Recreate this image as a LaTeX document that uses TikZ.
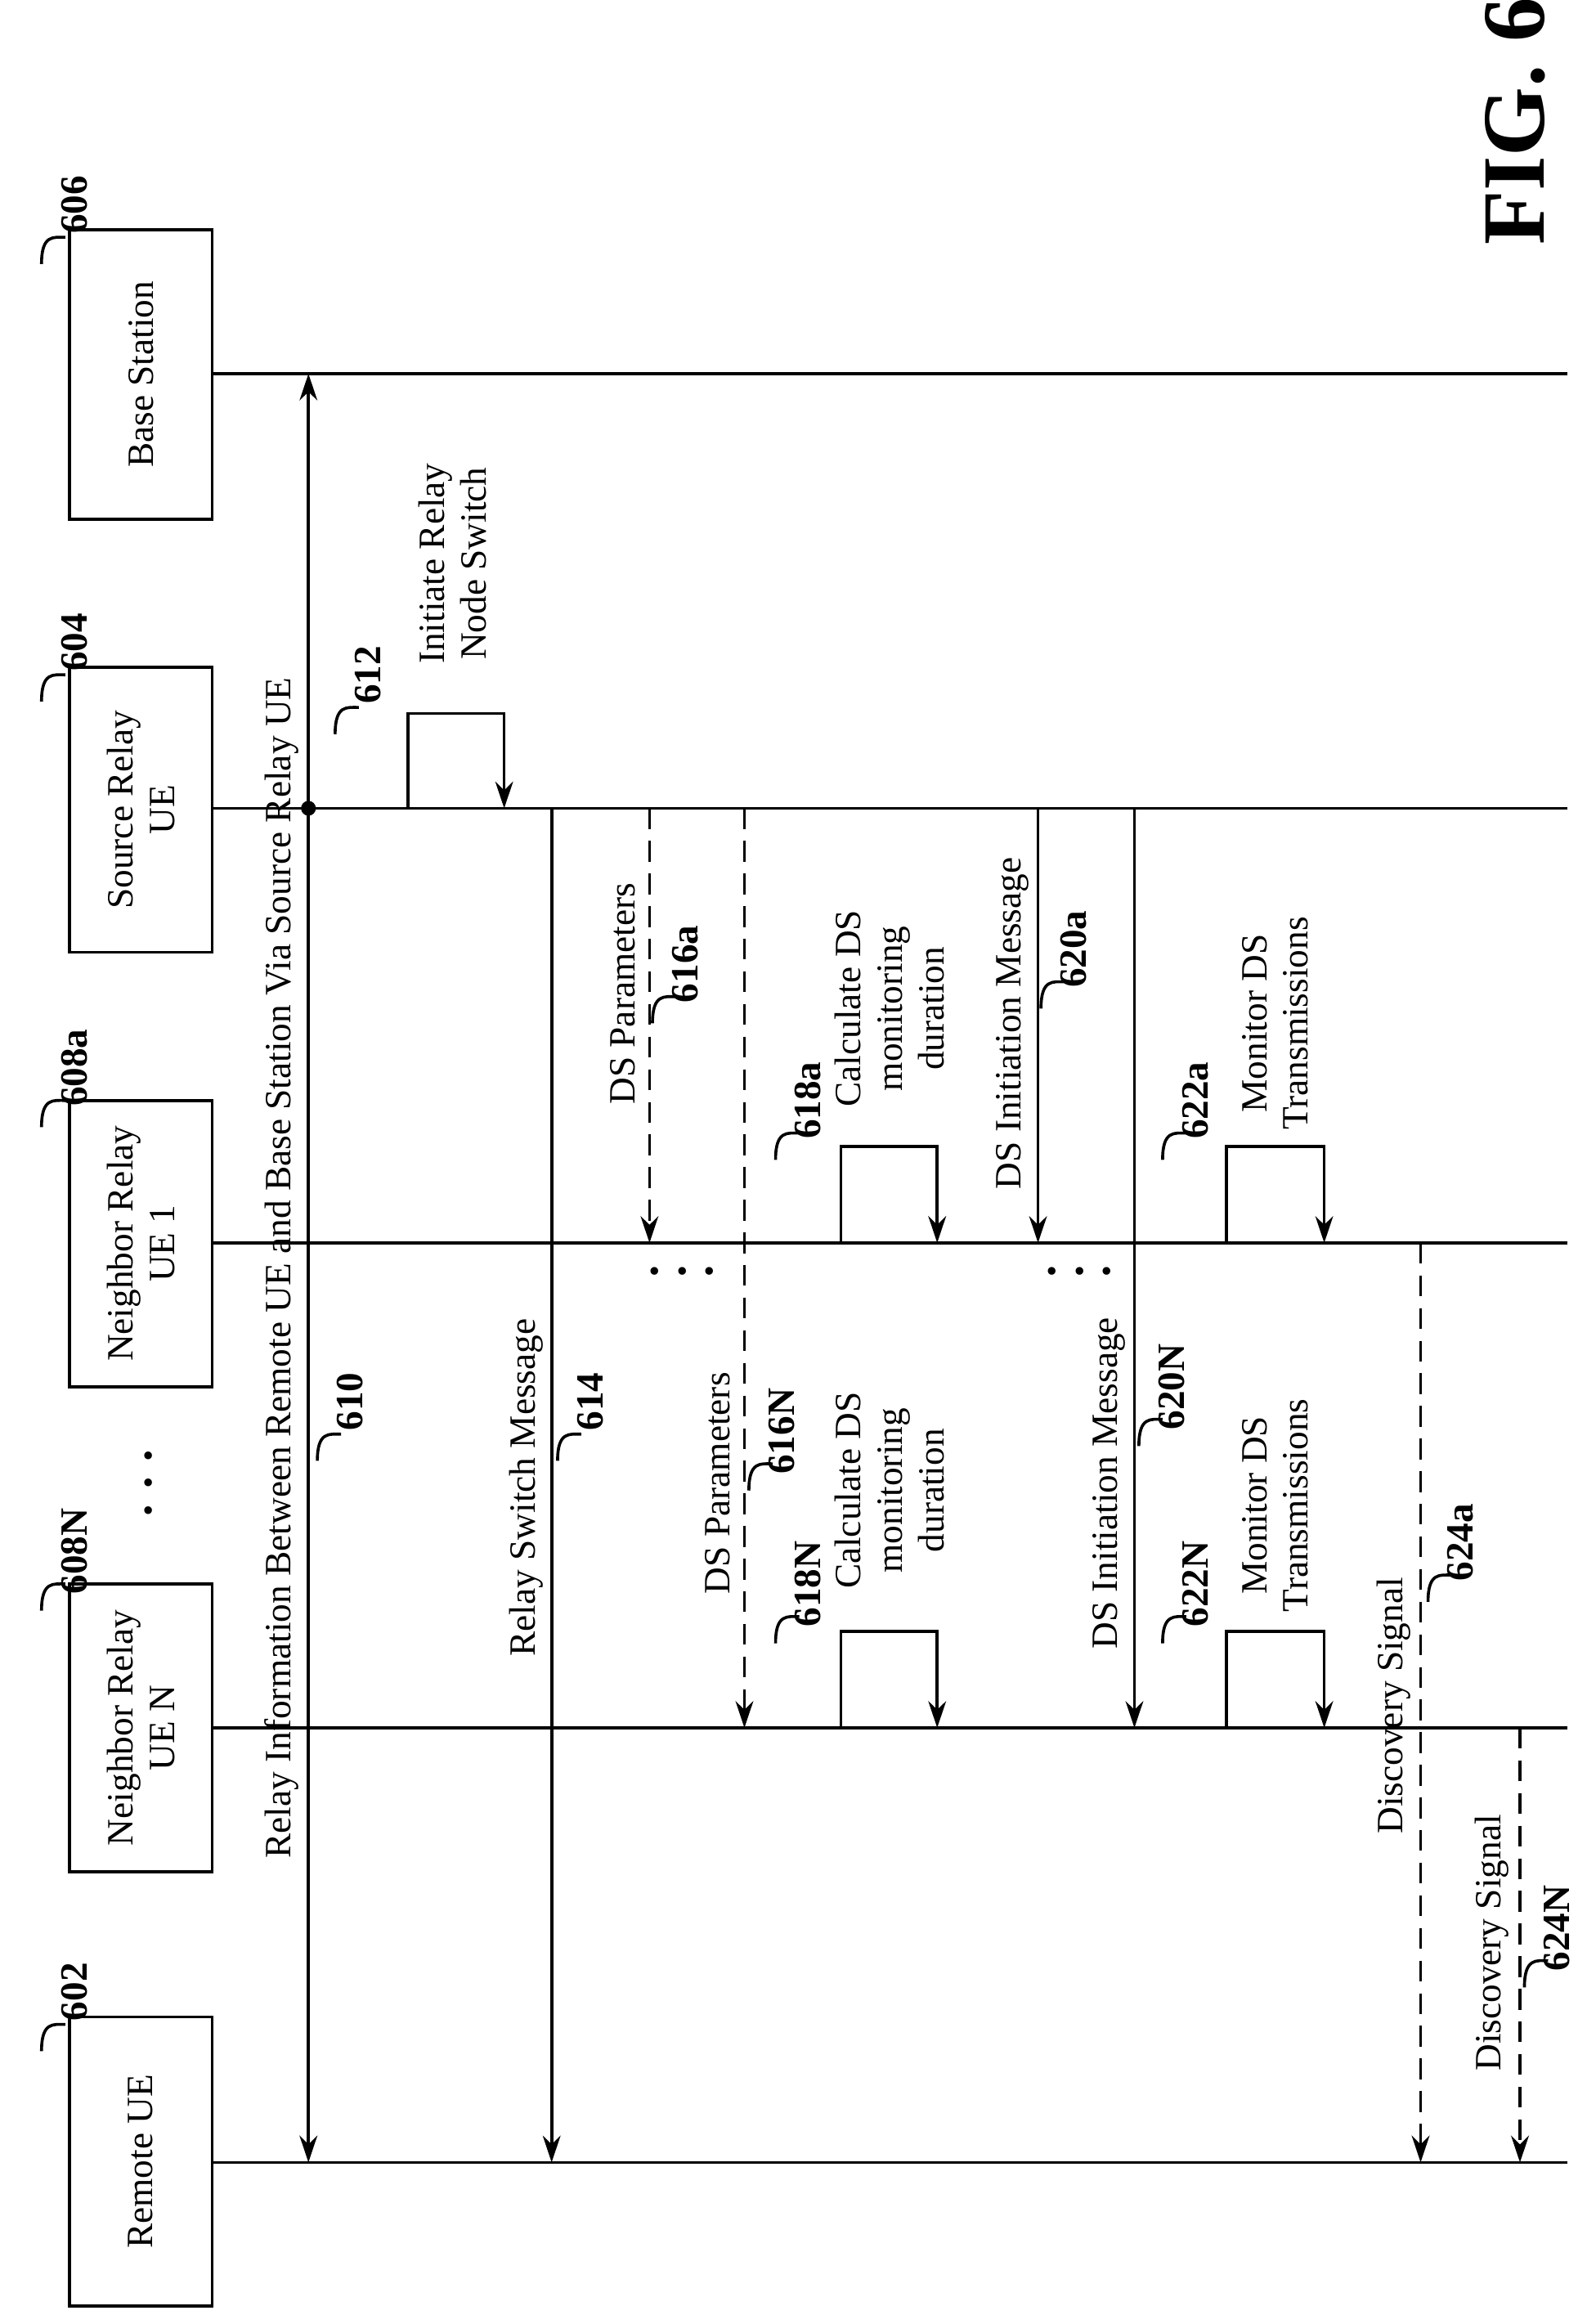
\documentclass[tikz,border=0pt]{standalone}
\usepackage{fontspec}
\setmainfont{Liberation Serif}
\usetikzlibrary{arrows.meta}
\tikzset{
  life/.style={line width=1pt},
  box/.style={draw,line width=1pt},
  msg/.style={line width=1pt,-{Stealth[length=9pt,width=6pt]}},
  dmsg/.style={msg,dash pattern=on 7pt off 4pt},
  lbl/.style={rotate=90,font=\fontsize{12.5}{14}\selectfont,align=center},
  num/.style={rotate=90,font=\fontsize{13}{14}\selectfont\bfseries}
}
% reference number with a small hook
\newcommand{\refnum}[4]{%
  \node[num] (#1) at (#2,#3) {#4};
  \draw[line width=1pt] (#2-22,#3+40) .. controls (#2-22,#3+20) and (#2-14,#3+22) .. (#2-6,#3+22);
}
\begin{document}
\begin{tikzpicture}[x=0.5pt,y=-0.5pt]
\useasboundingbox (0,0) rectangle (1070,1567);

% BOXES
\draw[box] (47,155) rectangle (143,350) node[midway,lbl] (bs) {Base Station};
\draw[box] (47,450) rectangle (143,642) node[midway,lbl] (src) {Source Relay\\UE};
\draw[box] (47,742) rectangle (143,935) node[midway,lbl] (nb1) {Neighbor Relay\\UE 1};
\draw[box] (47,1068) rectangle (143,1262) node[midway,lbl] (nbn) {Neighbor Relay\\UE N};
\draw[box] (47,1360) rectangle (143,1555) node[midway,lbl] (rem) {Remote UE};
\node[font=\fontsize{16}{16}\selectfont\bfseries,rotate=90] (dots) at (100,1000) {. . .};

\refnum{n606}{50}{138}{606}
\refnum{n604}{50}{433}{604}
\refnum{n608a}{50}{720}{608a}
\refnum{n608N}{50}{1046}{608N}
\refnum{n602}{50}{1343}{602}

% LIFELINES
\foreach \yy in {252,545,838,1165,1458}
  \draw[life] (143,\yy) -- (1057,\yy);

% 610
\draw[line width=1pt,{Stealth[length=9pt,width=6pt]}-{Stealth[length=9pt,width=6pt]}] (208,252) -- (208,1458);
\fill (208,545) circle (5);
\node[lbl] (l610) at (190,855) {Relay Information Between Remote UE and Base Station Via Source Relay UE};
\refnum{n610}{236}{945}{610}

% 612
\draw[msg] (275,545) -- (275,481) -- (340,481) -- (340,545);
\node[lbl] (l612) at (305,380) {Initiate Relay\\Node Switch};
\refnum{n612}{248}{455}{612}

% 614
\draw[msg] (372,545) -- (372,1458);
\node[lbl] (l614) at (355,1003) {Relay Switch Message};
\refnum{n614}{398}{945}{614}

% 616
\draw[dmsg] (438,545) -- (438,838);
\node[lbl] (l616a) at (420,670) {DS Parameters};
\refnum{n616a}{462}{650}{616a}
\draw[dmsg] (502,545) -- (502,1165);
\node[lbl] (l616N) at (484,1000) {DS Parameters};
\refnum{n616N}{527}{965}{616N}
\node[font=\fontsize{16}{16}\selectfont\bfseries] (d616) at (460,857) {. . .};

% 618
\draw[msg] (567,838) -- (567,773) -- (632,773) -- (632,838);
\node[lbl] (l618a) at (600,680) {Calculate DS\\monitoring\\duration};
\refnum{n618a}{545}{742}{618a}
\draw[msg] (567,1165) -- (567,1100) -- (632,1100) -- (632,1165);
\node[lbl] (l618N) at (600,1005) {Calculate DS\\monitoring\\duration};
\refnum{n618N}{545}{1068}{618N}

% 620
\draw[msg] (700,545) -- (700,838);
\node[lbl] (l620a) at (683,690) {DS Initiation Message};
\refnum{n620a}{724}{640}{620a}
\draw[msg] (765,545) -- (765,1165);
\node[lbl] (l620N) at (748,1000) {DS Initiation Message};
\refnum{n620N}{790}{935}{620N}
\node[font=\fontsize{16}{16}\selectfont\bfseries] (d620) at (728,857) {. . .};

% 622
\draw[msg] (827,838) -- (827,773) -- (893,773) -- (893,838);
\node[lbl] (l622a) at (860,690) {Monitor DS\\Transmissions};
\refnum{n622a}{806}{742}{622a}
\draw[msg] (827,1165) -- (827,1100) -- (893,1100) -- (893,1165);
\node[lbl] (l622N) at (860,1015) {Monitor DS\\Transmissions};
\refnum{n622N}{806}{1068}{622N}

% 624
\draw[dmsg] (958,838) -- (958,1458);
\node[lbl] (l624a) at (940,1150) {Discovery Signal};
\refnum{n624a}{985}{1040}{624a}
\draw[dmsg] (1025,1165) -- (1025,1458);
\node[lbl] (l624N) at (1006,1310) {Discovery Signal};
\refnum{n624N}{1050}{1300}{624N}

\node[rotate=90,font=\fontsize{30}{30}\selectfont\bfseries] (fig) at (1022,82) {FIG. 6};
\end{tikzpicture}
\end{document}
